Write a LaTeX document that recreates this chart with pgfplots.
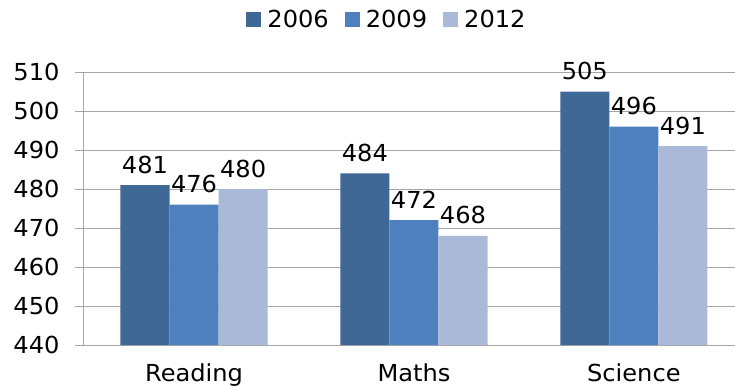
\documentclass[border=0pt]{standalone}
\usepackage{pgfplots}
\pgfplotsset{compat=1.18}
\usepackage{fontspec}
\setmainfont{DejaVu Sans}[FakeStretch=1.03]
\definecolor{cA}{HTML}{3F6897}
\definecolor{cB}{HTML}{4D80BD}
\definecolor{cC}{HTML}{AAB9D7}
\definecolor{gridc}{HTML}{A6A6A6}
\begin{document}
\begin{tikzpicture}[x=1bp,y=1bp]
\useasboundingbox (0,0) rectangle (735,387);
\begin{axis}[
  at={(83bp,42bp)}, anchor=south west,
  scale only axis, width=652bp, height=273bp,
  ybar=0pt, bar width=0.223,
  xmin=-0.505, xmax=2.46,
  ymin=440, ymax=510, ytick={440,450,...,510},
  xtick={0,1,2}, xticklabels={Reading,Maths,Science},
  major x tick style={draw=none},
  ymajorgrids, grid style={gridc, line width=0.8pt},
  axis x line*=bottom, axis y line*=left,
  axis line style={gridc, line width=0.8pt},
  y axis line style={-}, x axis line style={-},
  tick style={gridc, line width=0.8pt},
  ytick style={gridc}, major tick length=8bp,
  tick align=outside,
  /pgf/number format/assume math mode=true,
  /pgf/number format/1000 sep={},
  ticklabel style={font=\fontsize{23.5}{23.5}\selectfont, text=black},
  yticklabel style={xshift=-12bp},
  xticklabel style={yshift=-7bp},
  nodes near coords,
  nodes near coords style={font=\fontsize{23.5}{23.5}\selectfont, text=black, /pgf/number format/assume math mode=true, yshift=8bp},
  legend style={at={(387bp-83bp,367bp-42bp)}, anchor=center, draw=none, fill=none,
    legend columns=3, font=\fontsize{23.5}{23.5}\selectfont,
    /tikz/every even column/.append style={column sep=14bp},
    /tikz/every odd column/.append style={column sep=4bp}},
  legend image code/.code={\fill[#1] (0bp,-7bp) rectangle (15bp,8bp);},
  clip=false,
]
\addplot[fill=cA, draw=none] coordinates {(0,481) (1,484) (2,505)};
\addplot[fill=cB, draw=none] coordinates {(0,476) (1,472) (2,496)};
\addplot[fill=cC, draw=none] coordinates {(0,480) (1,468) (2,491)};
\legend{2006,2009,2012}
\end{axis}
\end{tikzpicture}
\end{document}
